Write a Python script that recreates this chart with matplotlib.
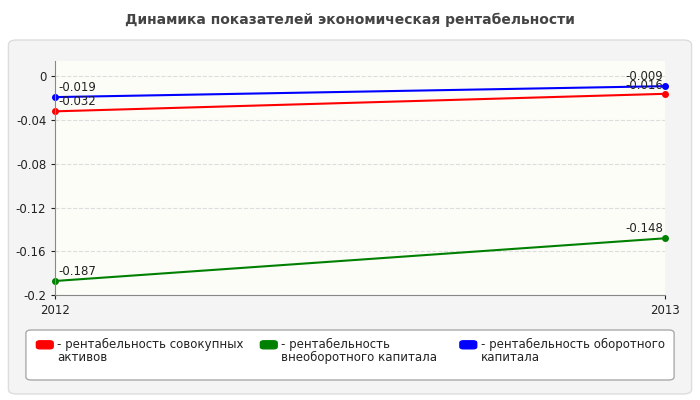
import matplotlib
matplotlib.use("Agg")
import matplotlib.pyplot as plt
from matplotlib.patches import FancyBboxPatch

years = ["2012", "2013"]
assets = [-0.032, -0.016]
noncurrent = [-0.187, -0.148]
current = [-0.019, -0.009]
labels = ["- рентабельность совокупных\nактивов",
          "- рентабельность\nвнеоборотного капитала",
          "- рентабельность оборотного\nкапитала"]
colors = ["#ff0000", "#008000", "#0000ff"]

fig = plt.figure(figsize=(7, 4), dpi=100)
fig.patch.set_facecolor("white")

# outer panel
fig.patches.append(FancyBboxPatch((0.012, 0.015), 0.976, 0.885,
                                  boxstyle="round,pad=0,rounding_size=0.012",
                                  transform=fig.transFigure, facecolor="#f4f4f4",
                                  edgecolor="#dddddd", lw=1, zorder=-5))
fig.text(0.5, 0.95, "Динамика показателей экономическая рентабельности",
         ha="center", va="center", fontsize=10, fontweight="bold", color="#444444")

ax = fig.add_axes([0.079, 0.262, 0.871, 0.585])
ax.set_zorder(2)
ax.set_facecolor("#fdfdf8")
x = [0, 1]
for series, c in zip([assets, noncurrent, current], colors):
    ax.plot(x, series, color=c, lw=1.5, marker="o", ms=4, clip_on=False)
    for xi, v in zip(x, series):
        dy = 0.0015 if v == -0.016 else 0.003
        ax.text(xi + (0.005 if xi == 0 else -0.065), v + dy, f"{v:g}",
                fontsize=8.5, color="#222222", va="bottom")
ax.set_xlim(0, 1)
ax.set_ylim(-0.2, 0.0138)
ax.set_yticks([0, -0.04, -0.08, -0.12, -0.16, -0.2])
ax.set_yticklabels(["0", "-0.04", "-0.08", "-0.12", "-0.16", "-0.2"])
ax.set_xticks(x)
ax.set_xticklabels(years)
ax.tick_params(labelsize=8.5, length=3, colors="#222222")
ax.grid(axis="y", color="#dddddd", ls="--", lw=0.8)
for s in ["top", "right"]:
    ax.spines[s].set_visible(False)
for s in ["left", "bottom"]:
    ax.spines[s].set_color("#888888")

# legend box
fig.patches.append(FancyBboxPatch((0.037, 0.05), 0.926, 0.125,
                                  boxstyle="round,pad=0,rounding_size=0.008",
                                  transform=fig.transFigure, facecolor="white",
                                  edgecolor="#aaaaaa", lw=1))
lx = [0.052, 0.372, 0.657]
for xx, lab, c in zip(lx, labels, colors):
    fig.patches.append(FancyBboxPatch((xx, 0.128), 0.024, 0.02,
                                      boxstyle="round,pad=0,rounding_size=0.005",
                                      transform=fig.transFigure, facecolor=c, edgecolor=c))
    fig.text(xx + 0.03, 0.155, lab, fontsize=8.5, va="top", color="#222222", linespacing=0.95)

fig.savefig("out.png", dpi=100)
